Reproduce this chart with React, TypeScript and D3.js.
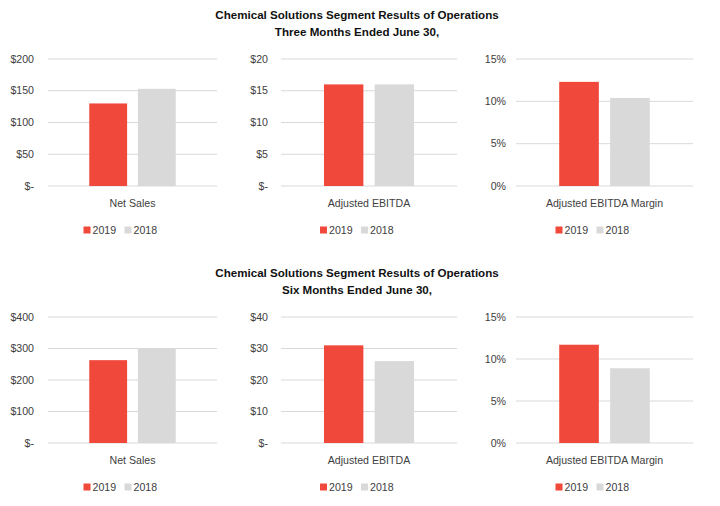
import * as d3 from 'd3';
import React from 'react';

// series
const years = ['2019', '2018'];
const yearColors = ['#F0483A', '#D9D9D9'];
const metricNames = ['Net Sales', 'Adjusted EBITDA', 'Adjusted EBITDA Margin'];

// three months ended June 30
const threeMonths2019 = [130, 16, 12.3];
const threeMonths2018 = [153, 16, 10.4];
const threeMonthsTicks = [
  [0, 50, 100, 150, 200],
  [0, 5, 10, 15, 20],
  [0, 5, 10, 15],
];

// six months ended June 30
const sixMonths2019 = [263, 31, 11.7];
const sixMonths2018 = [299, 26, 8.9];
const sixMonthsTicks = [
  [0, 100, 200, 300, 400],
  [0, 10, 20, 30, 40],
  [0, 5, 10, 15],
];

const titleLine1 = 'Chemical Solutions Segment Results of Operations';
const subtitles = ['Three Months Ended June 30,', 'Six Months Ended June 30,'];

const FONT = "'Liberation Sans Narrow', 'Arial Narrow', 'Liberation Sans', Arial, sans-serif";
const TEXT = '#404040';
const FS = 10.6;

const panelX = [
  [48, 217],
  [281, 457],
  [516, 693],
];
const labelGap = [14, 13, 10];

const fmt = (metric: number, v: number) => {
  if (metric === 2) return `${v}%`;
  return v === 0 ? '$-' : `$${v}`;
};

interface PanelProps {
  metric: number;
  values: number[];
  ticks: number[];
  top: number;
  bottom: number;
}

const Panel: React.FC<PanelProps> = ({ metric, values, ticks, top, bottom }) => {
  const [x0, x1] = panelX[metric];
  const y = d3.scaleLinear().domain([0, d3.max(ticks)!]).range([bottom, top]);
  const cat = d3.scaleBand<string>().domain([metricNames[metric]]).range([x0, x1]).padding(0.323);
  const xs = d3
    .scaleBand<string>()
    .domain(years)
    .range([cat(metricNames[metric])!, cat(metricNames[metric])! + cat.bandwidth()])
    .paddingInner(0.222);
  const cx = (x0 + x1) / 2;
  return (
    <g>
      {ticks.map((t) => (
        <g key={t}>
          <line x1={x0} x2={x1} y1={y(t)} y2={y(t)} stroke="#D9D9D9" strokeWidth={1} />
          <text x={x0 - labelGap[metric]} y={y(t)} dy="0.35em" textAnchor="end" fontSize={FS} fill={TEXT}>
            {fmt(metric, t)}
          </text>
        </g>
      ))}
      {years.map((yr, i) => (
        <rect
          key={yr}
          x={xs(yr)}
          width={xs.bandwidth()}
          y={y(values[i])}
          height={bottom - y(values[i])}
          fill={yearColors[i]}
        />
      ))}
      <text x={cx} y={bottom + 17} dy="0.35em" textAnchor="middle" fontSize={FS} fill={TEXT}>
        {metricNames[metric]}
      </text>
      <g transform={`translate(${cx},${bottom + 44})`}>
        <rect x={-49} y={-3.5} width={7} height={7} fill={yearColors[0]} />
        <text x={-40} dy="0.35em" fontSize={FS} fill={TEXT}>{years[0]}</text>
        <rect x={-8} y={-3.5} width={7} height={7} fill={yearColors[1]} />
        <text x={1} dy="0.35em" fontSize={FS} fill={TEXT}>{years[1]}</text>
      </g>
    </g>
  );
};

const App: React.FC = () => {
  const rows = [
    { sub: subtitles[0], v19: threeMonths2019, v18: threeMonths2018, ticks: threeMonthsTicks, titleY: 15, top: 59, bottom: 186 },
    { sub: subtitles[1], v19: sixMonths2019, v18: sixMonths2018, ticks: sixMonthsTicks, titleY: 273, top: 317, bottom: 443 },
  ];
  return (
    <svg
      width={720}
      height={506}
      style={{ position: 'absolute', left: 0, top: 0, background: '#fff' }}
      fontFamily={FONT}
    >
      {rows.map((r, ri) => (
        <g key={ri}>
          <text x={357} y={r.titleY} dy="0.35em" textAnchor="middle" fontSize={11.6} fontWeight="bold" fill="#111">
            {titleLine1}
          </text>
          <text x={357} y={r.titleY + 17} dy="0.35em" textAnchor="middle" fontSize={11.6} fontWeight="bold" fill="#111">
            {r.sub}
          </text>
          {metricNames.map((_, m) => (
            <Panel key={m} metric={m} values={[r.v19[m], r.v18[m]]} ticks={r.ticks[m]} top={r.top} bottom={r.bottom} />
          ))}
        </g>
      ))}
    </svg>
  );
};

export default App;
